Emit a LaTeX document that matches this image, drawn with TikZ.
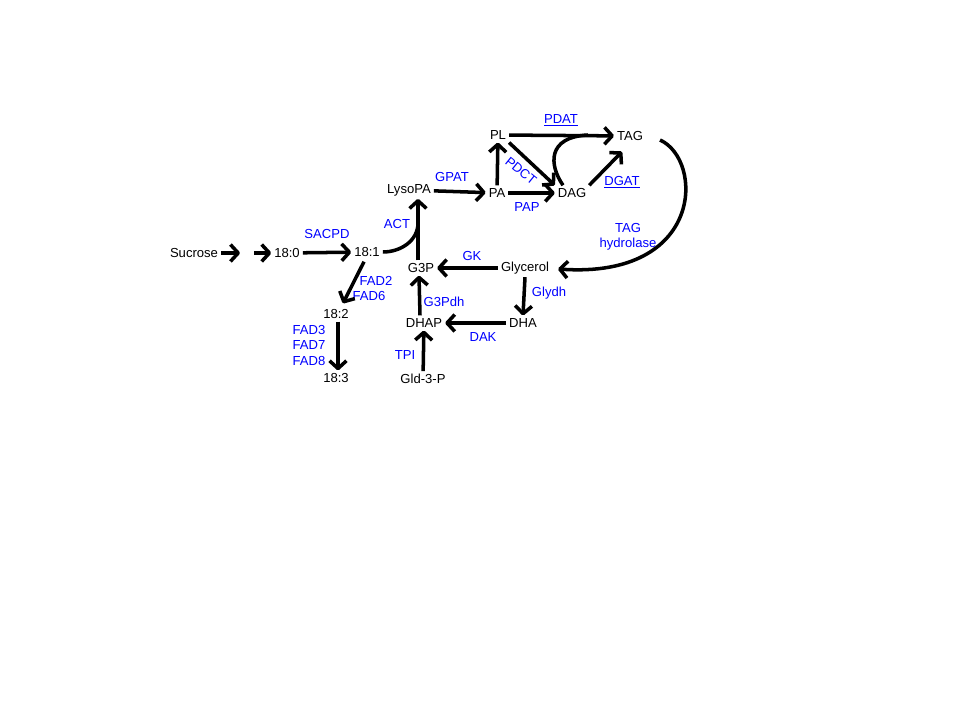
\documentclass[tikz,border=0pt]{standalone}
\usepackage{fontspec}
\setmainfont{Liberation Sans}
\usetikzlibrary{arrows.meta,calc}
\definecolor{enzblue}{RGB}{0,0,255}

\tikzset{
  met/.style={font=\fontsize{9.3}{11}\selectfont, inner sep=2pt},
  enz/.style={font=\fontsize{9.3}{11}\selectfont, text=enzblue, inner sep=1pt},
  flux/.style={line width=2.5pt, line join=round,
    -{Straight Barb[length=5.5pt,width=12pt,line join=round]}},
  merge/.style={line width=2.5pt},
}

\begin{document}
\begin{tikzpicture}[x=0.025cm,y=-0.025cm]
  \useasboundingbox (0,0) rectangle (960,720);

  % metabolites
  \node[met] (suc)  at (194,253) {Sucrose};
  \node[met] (s180) at (287,253) {18:0};
  \node[met] (s181) at (367,252) {18:1};
  \node[met] (s182) at (336,314) {18:2};
  \node[met] (s183) at (336,378) {18:3};
  \node[met] (lyso) at (409,190) {LysoPA};
  \node[met] (pa)   at (497,193) {PA};
  \node[met] (pl)   at (498,135) {PL};
  \node[met] (dag)  at (572,193) {DAG};
  \node[met] (tag)  at (630,136) {TAG};
  \node[met] (g3p)  at (421,268) {G3P};
  \node[met] (gly)  at (525,268) {Glycerol};
  \node[met] (dha)  at (523,323) {DHA};
  \node[met] (dhap) at (424,323) {DHAP};
  \node[met] (gld)  at (423,379) {Gld-3-P};
  \coordinate (gap) at (247,253);

  % enzymes
  \node[enz] (sacpd) at (327,234) {SACPD};
  \node[enz] (act)   at (397,224) {ACT};
  \node[enz] (gpat)  at (452,177) {GPAT};
  \node[enz] (pap)   at (527,207) {PAP};
  \node[enz, rotate=-39] (pdct) at (521,171) {PDCT};
  \node[enz] (pdat)  at (561,120) {\underline{PDAT}};
  \node[enz] (dgat)  at (622,182) {\underline{DGAT}};
  \node[enz, align=center] (tagh) at (628,237) {TAG\\hydrolase};
  \node[enz] (gk)    at (472,256) {GK};
  \node[enz] (glydh) at (549,293) {Glydh};
  \node[enz] (dak)   at (483,337) {DAK};
  \node[enz] (g3pdh) at (444,302) {G3Pdh};
  \node[enz] (tpi)   at (405,355) {TPI};
  \node[enz] (fad2)  at (376,281) {FAD2};
  \node[enz] (fad6)  at (369,296) {FAD6};
  \node[enz] (fad3)  at (309,330) {FAD3};
  \node[enz] (fad7)  at (309,345) {FAD7};
  \node[enz] (fad8)  at (309,361) {FAD8};

  % fatty acid branch
  \draw[flux] (suc) -- ([xshift=-5]gap);
  \draw[flux] ([xshift=5]gap) -- (s180);
  \draw[flux] (s180) -- (s181);
  \draw[flux] ($(s181.south)+(-3,2)$) -- ($(s182.north)+(7,-3)$);
  \draw[flux] ($(s182.south)+(2,0)$) -- ($(s183.north)+(2,0)$);
  \draw[merge] (s181.east) to[out=0,in=-90] ($(g3p.north |- lyso.south)+(-3,24)$);

  % glycerol backbone
  \draw[flux] ($(g3p.north)+(-3,0)$) -- ($(g3p.north |- lyso.south)+(-3,0)$);
  \draw[flux] (gly) -- (g3p);
  \draw[flux] (gly.south) -- (dha.north);
  \draw[flux] (dha) -- (dhap);
  \draw[flux] ($(dhap.north)+(-4,0)$) -- ($(g3p.south)+(-2,0)$);
  \draw[flux] (gld) -- (dhap);

  % lipid assembly
  \draw[flux] (lyso) -- (pa);
  \draw[flux] (pa) -- (pl);
  \draw[flux] (pa) -- (dag);
  \draw[flux] (pl.south east) -- (dag.north west);
  \draw[flux] (pl) -- (tag);
  \draw[merge] ($(dag.north)+(-9,0)$) .. controls (549,165) and (547,137) .. (588,135);
  \draw[flux] (dag.north east) -- ($(tag.south)+(-8,8)$);
  \draw[flux] ($(tag.east)+(14,4)$) .. controls (704,160) and (704,279) .. ($(gly.east)+(6,1)$);
\end{tikzpicture}
\end{document}
